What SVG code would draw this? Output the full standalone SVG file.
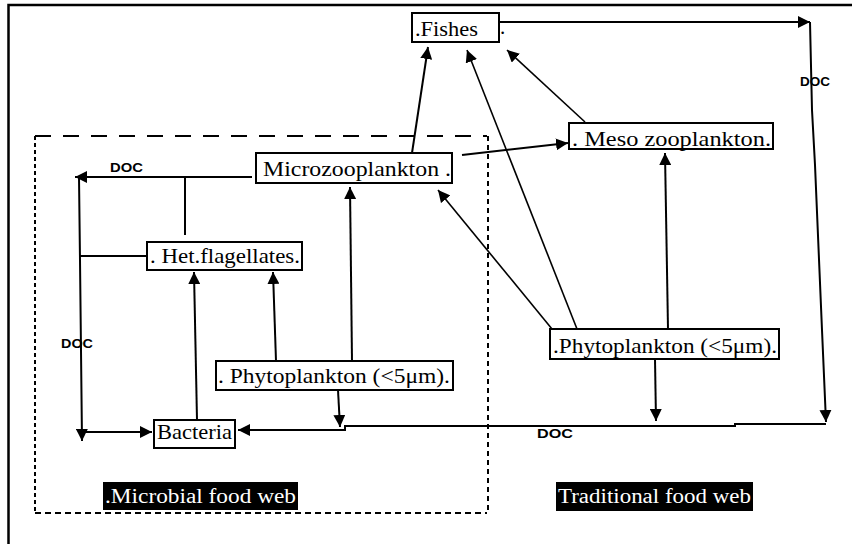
<svg xmlns="http://www.w3.org/2000/svg" width="852" height="544" viewBox="0 0 852 544">
<style>
.box{fill:#fff;stroke:#000;stroke-width:2}
.t{font-family:"Liberation Serif","Times New Roman",serif;font-size:21px;fill:#000}
.lt{font-family:"Liberation Serif","Times New Roman",serif;font-size:20px;fill:#fff}
.doc{font-family:"Liberation Sans",sans-serif;font-size:12px;font-weight:bold;fill:#000}
.c{fill:none;stroke:#000;stroke-width:2}
.d{fill:none;stroke:#000;stroke-width:1.6}
.dash{fill:none;stroke:#000;stroke-width:2}
</style>
<defs>
<marker id="ah" viewBox="0 0 10 10" refX="10" refY="5" markerWidth="12" markerHeight="12" orient="auto" markerUnits="userSpaceOnUse">
<path d="M0,0 L10,5 L0,10 z" fill="#000"/>
</marker>
</defs>
<rect width="852" height="544" fill="#fff"/>
<g id="frame">
<path d="M8.5,544 V5 H852" fill="none" stroke="#000" stroke-width="2.5"/>
</g>
<g id="microbial-region">
<path class="dash" d="M35,136 H487" stroke-dasharray="16 12"/>
<path class="dash" d="M35,136 V513" stroke-dasharray="4 3"/>
<path class="dash" d="M35,513 H487" stroke-dasharray="6 4"/>
<path class="dash" d="M488,136 V513" stroke-dasharray="5 4"/>
</g>
<g id="connectors">
<path class="c" d="M499,22 H810" marker-end="url(#ah)"/>
<path class="c" d="M810,22 L812,110 L815,165 L822,330 L826,422" marker-end="url(#ah)"/>
<path class="c" d="M826,424 H735 V426 H345 V430 H238" marker-end="url(#ah)"/>
<path class="c" d="M655,359 L656,421" marker-end="url(#ah)"/>
<path class="c" d="M338,390 L340,427" marker-end="url(#ah)"/>
<path class="c" d="M668,329 L665,153" marker-end="url(#ah)"/>
<path class="d" d="M577,329 L467,50" marker-end="url(#ah)"/>
<path class="d" d="M552,329 L438,190" marker-end="url(#ah)"/>
<path class="d" d="M585,122 L507,50" marker-end="url(#ah)"/>
<path class="c" d="M462,155 L568,143" marker-end="url(#ah)"/>
<path class="c" d="M412,153 L428,47" marker-end="url(#ah)"/>
<path class="c" d="M352,361 L350,187" marker-end="url(#ah)"/>
<path class="c" d="M276,361 L273,272" marker-end="url(#ah)"/>
<path class="c" d="M197,420 L194,272" marker-end="url(#ah)"/>
<path class="c" d="M252,177 H75" marker-end="url(#ah)"/>
<path class="c" d="M185,177 V235"/>
<path class="c" d="M79,177 L80,260 L82,441" marker-end="url(#ah)"/>
<path class="c" d="M84,432 H152" marker-end="url(#ah)"/>
<path class="c" d="M147,256 H80"/>
<text class="doc" x="110" y="172" textLength="33" lengthAdjust="spacingAndGlyphs">DOC</text>
<text class="doc" x="61" y="348" textLength="32" lengthAdjust="spacingAndGlyphs">DOC</text>
<text class="doc" x="800" y="86" textLength="30" lengthAdjust="spacingAndGlyphs">DOC</text>
<text class="doc" x="537" y="438" textLength="36" lengthAdjust="spacingAndGlyphs">DOC</text>
</g>
<g id="fishes">
<rect class="box" x="412" y="13" width="87" height="29"/>
<text class="t" x="415" y="36" textLength="63" lengthAdjust="spacingAndGlyphs">.Fishes</text>
<text class="t" x="500" y="34" font-size="14">.</text>
</g>
<g id="meso">
<rect class="box" x="569" y="123" width="204" height="26"/>
<text class="t" x="572" y="146" textLength="199" lengthAdjust="spacingAndGlyphs">. Meso zooplankton.</text>
</g>
<g id="micro">
<rect class="box" x="256" y="153" width="196" height="30"/>
<text class="t" x="263" y="176" textLength="188" lengthAdjust="spacingAndGlyphs">Microzooplankton .</text>
</g>
<g id="het">
<rect class="box" x="147" y="242" width="155" height="28"/>
<text class="t" x="150" y="263" textLength="150" lengthAdjust="spacingAndGlyphs">. Het.flagellates.</text>
</g>
<g id="phyto-left">
<rect class="box" x="216" y="361" width="237" height="29"/>
<text class="t" x="218" y="383" textLength="232" lengthAdjust="spacingAndGlyphs">. Phytoplankton (&lt;5μm).</text>
</g>
<g id="bacteria">
<rect class="box" x="154" y="420" width="81" height="28"/>
<text class="t" x="157" y="439" textLength="75" lengthAdjust="spacingAndGlyphs">Bacteria</text>
</g>
<g id="phyto-right">
<rect class="box" x="550" y="329" width="229" height="30"/>
<text class="t" x="553" y="353" textLength="224" lengthAdjust="spacingAndGlyphs">.Phytoplankton (&lt;5μm).</text>
</g>
<g id="label-microbial">
<rect x="103" y="482" width="195" height="28" fill="#000"/>
<text class="lt" x="105" y="503" textLength="191" lengthAdjust="spacingAndGlyphs">.Microbial food web</text>
</g>
<g id="label-traditional">
<rect x="556" y="482" width="197" height="29" fill="#000"/>
<text class="lt" x="558" y="503" textLength="193" lengthAdjust="spacingAndGlyphs">Traditional food web</text>
</g>
</svg>
